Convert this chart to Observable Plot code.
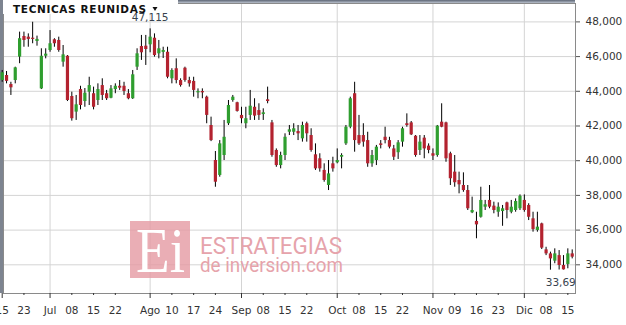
<!DOCTYPE html>
<html>
<head>
<meta charset="utf-8">
<script src="https://cdn.jsdelivr.net/npm/d3@7"></script>
<script src="https://cdn.jsdelivr.net/npm/@observablehq/plot@0.6"></script>
<style>
  html, body { margin: 0; padding: 0; background: #fff; }
  #chart { position: relative; width: 626px; height: 325px; overflow: hidden; }
</style>
</head>
<body>
<div id="chart"></div>
<script>
// ---- Data (TECNICAS REUNIDAS daily candles) ----
const open = [44620,44910,44390,44620,45970,47160,47120,47060,46870,44140,
46020,46350,46970,46930,45680,46020,43700,42800,44100,43410,
43950,43860,43470,44330,43860,43600,44100,44290,44290,43860,
43570,45390,46580,46600,46680,47060,46160,46240,46250,44720,
45300,44620,45330,44620,44570,43910,43990,43660,42030,40010,
39150,40300,42130,43470,43340,42610,42130,42610,43080,42890,
42660,43510,42180,40590,39720,40300,41640,41640,41680,41260,
42130,41450,40340,40110,39440,38570,39820,39880,40200,40970,
41930,43860,41450,41450,41160,39820,40010,40970,41350,41160,
40680,40460,41070,42130,42180,41410,40590,41300,40840,40400,
40300,42220,42180,40400,39340,38860,38570,38280,37000,36500,
36740,37320,37710,37380,37030,37070,37570,37030,37130,37230,
37710,37420,36650,35980,36360,34860,34630,34210,34530,33960,
34020,34630];
const high = [45200,45140,44520,45390,47410,47410,47310,47980,47180,46450,
46450,47500,47030,47120,46640,46060,43950,43760,44290,44160,
44810,44240,44430,44720,44050,44330,44430,44620,44520,44100,
45200,46450,47220,47220,47600,47310,46930,46540,46540,45300,
45870,44720,45390,44810,44810,44140,44140,43720,42510,40530,
41160,42320,43470,43760,43370,43080,43080,44050,43570,43280,
42990,44240,42320,40680,40490,41550,42030,42130,42030,42220,
42220,41840,40970,40400,39820,40010,40200,40680,40400,42030,
43660,44520,42610,42130,41640,40590,40880,41160,41930,41350,
40880,41160,41930,42700,42260,41450,41450,41450,40970,40680,
42030,43280,42220,40490,40300,39340,39300,38570,37900,37030,
38470,37710,38570,37610,37570,37420,37610,37710,37800,38030,
38030,37520,37030,37030,36400,35010,34730,34920,34820,34530,
34920,34860];
const low = [44520,44430,43760,44430,45590,46540,46540,46740,46600,44100,
45870,46250,46540,46250,45390,43410,42280,42320,42930,43080,
43180,42930,43180,43470,43470,43570,43860,44050,43760,43510,
43530,45200,45780,45490,46220,45970,45870,45890,44720,44430,
44430,44240,44520,44240,43660,43570,43570,42130,41100,38470,
39050,40010,42030,43370,42800,42130,41840,42320,42320,42320,
42320,43280,40200,39620,39530,40010,41450,41450,41160,41070,
41070,40490,39440,39340,38760,38280,39340,39820,39530,40880,
41840,40490,40880,40780,39620,39620,39720,40680,40970,40680,
40010,40070,40780,41930,41450,40200,40300,40110,40400,40010,
40200,41900,39910,38570,38470,38090,38180,37130,36950,35500,
36690,37130,37230,36940,36740,36220,36650,36940,37030,37130,
37030,36550,35880,35880,34880,34530,33690,34060,33700,33700,
33770,34340];
const close = [45070,44570,44200,45350,47030,46930,46990,46990,46990,46020,
46140,46740,46740,46350,46100,43470,42420,43220,43180,43890,
44330,43080,44100,43760,43570,44140,44290,44180,43990,43570,
44950,46160,46220,46410,47120,46060,46450,46350,44810,45200,
44620,44330,44620,44430,44050,43990,43910,42610,41160,38760,
40970,41350,43180,43660,42840,42420,42420,43140,42570,42610,
42760,43410,40300,39720,40300,41350,41780,41840,41550,42030,
41550,40590,39530,39530,38860,39240,39530,40010,40300,41930,
43570,41160,40970,41070,39820,40300,40780,40880,41160,40780,
40200,41030,41840,42030,41490,40300,41070,40680,40590,40260,
41990,41930,40110,38960,38730,38610,38280,37230,37130,36300,
37710,37460,37320,37130,37320,37230,37130,37320,37650,37950,
37130,36740,36030,36170,34960,34630,34340,34630,33960,33710,
34630,34440];

// x ticks: trading-day index of each tick and its label
const majorTickIndex = [0, 11, 34, 55, 77, 99, 120];
const majorTickLabels = ["15", "Jul", "Ago", "Sep", "Oct", "Nov", "Dic"];
const minorTickIndex = [5, 16, 21, 26, 39, 44, 49, 60, 65, 70, 82, 87, 92, 104, 109, 114, 125, 130];
const minorTickLabels = ["23", "08", "15", "22", "10", "17", "24", "08", "15", "22", "08", "15", "22", "09", "16", "23", "08", "15"];
const gridMonthIndex = [11, 34, 55, 77, 99, 120];
const yTicks = [34000, 36000, 38000, 40000, 42000, 44000, 46000, 48000];

const title = "TECNICAS REUNIDAS";
const hiLabel = {i: 34, label: "47,115"};
const loLabel = {i: 126, label: "33,69"};

// ---- Build table ----
const data = open.map((o, i) => ({i, open: o, high: high[i], low: low[i], close: close[i]}));
const hiPt = {i: hiLabel.i, v: high[hiLabel.i], label: hiLabel.label};
const loPt = {i: loLabel.i, v: low[loLabel.i], label: loLabel.label};

const majorMap = new Map(majorTickIndex.map((d, k) => [d, majorTickLabels[k]]));
const minorMap = new Map(minorTickIndex.map((d, k) => [d, minorTickLabels[k]]));

const GREEN = "#2f9e2f";
const RED = "#b3222f";
const FONT = "DejaVu Sans";

function decorations(index, scales, values, dims) {
  const g = d3.create("svg:g");
  const L = dims.marginLeft, R = dims.width - dims.marginRight;
  const T = dims.marginTop, B = dims.height - dims.marginBottom;
  const defs = g.append("defs");
  const grad = defs.append("linearGradient").attr("id", "topband").attr("x1", 0).attr("x2", 0).attr("y1", 0).attr("y2", 1);
  grad.append("stop").attr("offset", "0%").attr("stop-color", "#5d6675");
  grad.append("stop").attr("offset", "100%").attr("stop-color", "#b9c0cc");
  g.append("rect").attr("x", 0).attr("y", 0).attr("width", R).attr("height", T).attr("fill", "url(#topband)");
  g.append("rect").attr("x", 0).attr("y", 0).attr("width", L).attr("height", B).attr("fill", "#7d8490");
  return g.node();
}

function watermark() {
  const g = d3.create("svg:g").attr("text-anchor", "start");
  g.append("rect").attr("x", 130).attr("y", 221).attr("width", 60).attr("height", 57)
    .attr("fill", "#e59aa3").attr("fill-opacity", 0.8);
  g.append("text").attr("x", 136).attr("y", 271.5).attr("font-family", "Liberation Serif")
    .attr("font-size", 64).attr("fill", "#fff").attr("textLength", 49).attr("lengthAdjust", "spacingAndGlyphs").text("Ei");
  g.append("text").attr("x", 200).attr("y", 254).attr("font-family", "Roboto")
    .attr("font-size", 23).attr("fill", "#e6a3ab").attr("textLength", 142).attr("lengthAdjust", "spacingAndGlyphs").text("ESTRATEGIAS");
  g.append("text").attr("x", 200).attr("y", 272).attr("font-family", "Roboto")
    .attr("font-size", 19.5).attr("fill", "#e6a3ab").attr("textLength", 143).attr("lengthAdjust", "spacingAndGlyphs").text("de inversion.com");
  return g.node();
}

function titleMark() {
  const g = d3.create("svg:g").attr("text-anchor", "start");
  g.append("rect").attr("x", 3).attr("y", 0).attr("width", 175).attr("height", 14).attr("fill", "#fff");
  g.append("text").attr("x", 13).attr("y", 12.7).attr("font-family", FONT).attr("font-weight", "bold")
    .attr("font-size", 10.5).attr("fill", "#111").attr("textLength", 133).attr("lengthAdjust", "spacing").text(title);
  g.append("path").attr("d", "M152.5,7 L157.5,7 L155,11 Z").attr("fill", "#111");
  return g.node();
}

const chart = Plot.plot({
  width: 626,
  height: 325,
  marginLeft: 3,
  marginRight: 51,
  marginTop: 3,
  marginBottom: 32,
  style: {fontFamily: FONT, fontSize: "10.5px", color: "#333", background: "#fff"},
  x: {type: "linear", domain: [0.3, 131.76], axis: null},
  y: {domain: [32346, 49060], axis: null},
  marks: [
    Plot.gridY(yTicks, {stroke: "#d4d4d4", strokeOpacity: 1}),
    Plot.gridX(gridMonthIndex, {stroke: "#d4d4d4", strokeOpacity: 1}),
    watermark,
    Plot.frame({stroke: "#8a8a8a"}),
    decorations,
    Plot.axisX(majorTickIndex, {tickSize: 5, tickPadding: 8, tickFormat: d => majorMap.get(d), stroke: "#333", fill: "#333", label: null}),
    Plot.axisX(minorTickIndex, {tickSize: 2, tickPadding: 11, tickFormat: d => minorMap.get(d), stroke: "#333", fill: "#333", label: null}),
    Plot.axisY(yTicks, {anchor: "right", tickSize: 4, tickPadding: 6, tickFormat: d3.format(","), stroke: "#555", fill: "#333", label: null}),
    Plot.ruleX(data, {x: "i", y1: "low", y2: "high", stroke: "#000", strokeWidth: 1}),
    Plot.ruleX(data, {x: "i", y1: "open", y2: "close", stroke: d => d.close >= d.open ? GREEN : RED, strokeWidth: 3.2}),
    titleMark,
    Plot.text([hiPt], {x: "i", y: "v", text: "label", dy: -11, fill: "#38434e"}),
    Plot.text([loPt], {x: "i", y: "v", text: "label", textAnchor: "start", dx: -4.7, dy: 12, fill: "#38434e"})
  ]
});

document.getElementById("chart").appendChild(chart);
</script>
</body>
</html>
